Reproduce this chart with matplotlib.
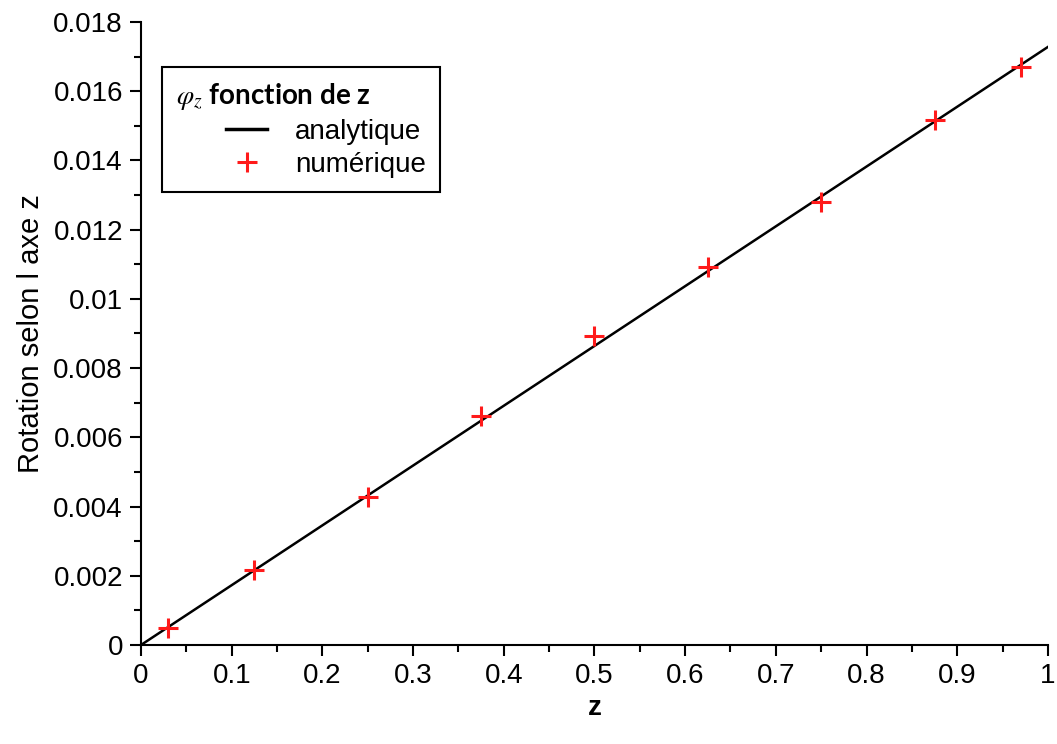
import numpy as np
import matplotlib.pyplot as plt
from matplotlib.legend_handler import HandlerLine2D
from matplotlib.ticker import MultipleLocator

# rotation about z axis : analytic vs numeric

z_analytic = [0.0, 1.0]
phi_analytic = [0.0, 0.01728]

z_num = [0.03, 0.125, 0.25, 0.375, 0.5, 0.625, 0.75, 0.875, 0.97]
phi_num = [0.00049, 0.00216, 0.00429, 0.00662, 0.00893, 0.01093, 0.0128, 0.01516, 0.01671]

x_ticks = [0, 0.1, 0.2, 0.3, 0.4, 0.5, 0.6, 0.7, 0.8, 0.9, 1]
x_labels = ['0', '0.1', '0.2', '0.3', '0.4', '0.5', '0.6', '0.7', '0.8', '0.9', '1']
y_ticks = [0, 0.002, 0.004, 0.006, 0.008, 0.01, 0.012, 0.014, 0.016, 0.018]
y_labels = ['0', '0.002', '0.004', '0.006', '0.008', '0.01', '0.012', '0.014', '0.016', '0.018']

plt.rcParams['font.family'] = ['Liberation Sans', 'DejaVu Sans']
plt.rcParams['mathtext.fontset'] = 'stix'

fig = plt.figure(figsize=(10.57, 7.44), dpi=100)
ax = fig.add_axes([0.1334, 0.1331, 0.858, 0.8373])

line, = ax.plot(z_analytic, phi_analytic, color='black', linewidth=1.8)
pts, = ax.plot(z_num, phi_num, linestyle='none', marker='+', color='#ff1a1a',
               markersize=14, markeredgewidth=2.2)

ax.set_xticks(x_ticks)
ax.set_xticklabels(x_labels)
ax.set_yticks(y_ticks)
ax.set_yticklabels(y_labels)
ax.xaxis.set_minor_locator(MultipleLocator(0.05))
ax.yaxis.set_minor_locator(MultipleLocator(0.001))
ax.set_xlim(0, 1)
ax.set_ylim(0, 0.018)

for s in ['top', 'right']:
    ax.spines[s].set_visible(False)
for s in ['left', 'bottom']:
    ax.spines[s].set_linewidth(1.5)
ax.tick_params(which='major', direction='out', length=8, width=1.5, labelsize=20, pad=5)
ax.tick_params(which='minor', direction='out', length=5, width=1.5)

ax.set_xlabel('z', fontsize=20, fontweight='bold', labelpad=4)
ax.set_ylabel('Rotation selon l axe z', fontsize=21, labelpad=6)

leg = ax.legend([line, pts], ['analytique', 'numérique'],
                title=r'$\varphi_z$ fonction de z',
                title_fontproperties={'family': 'Lato', 'weight': 'bold', 'size': 20},
                loc='upper left', bbox_to_anchor=(0.023, 0.928), borderaxespad=0,
                fontsize=20, handlelength=3.3, handletextpad=1.0, labelspacing=0.25,
                borderpad=0.5, fancybox=False, framealpha=1, edgecolor='black',
                alignment='left',
                handler_map={line: HandlerLine2D(xpad=1.8), pts: HandlerLine2D(xpad=1.8)})
leg.get_frame().set_linewidth(1.5)
leg.get_lines()[0].set_linewidth(2.5)

plt.savefig('out.png', dpi=100)
